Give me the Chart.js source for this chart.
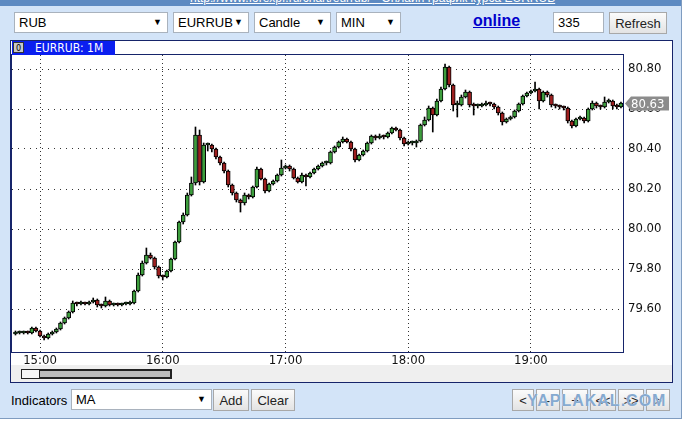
<!DOCTYPE html>
<html>
<head>
<meta charset="utf-8">
<script src="https://cdn.jsdelivr.net/npm/chart.js@4"></script>
<style>
  body{margin:0;background:#fff;font-family:"Liberation Sans",Arial,sans-serif;font-size:13px;}
  .abs{position:absolute;box-sizing:border-box;}
  #widget{left:0;top:0;width:682px;height:419px;background:#d3e4f8;border-right:1px solid #7f9cc0;border-bottom:1px solid #7f9cc0;}
  #topstrip{left:0;top:0;width:681px;height:6px;background:#5d8ac2;overflow:hidden;}
  #topstrip span{position:absolute;left:190px;top:-9px;color:#fff;text-decoration:underline;font-size:12px;white-space:nowrap;}
  .sel{height:21px;background:#fff;border:1px solid #a9b2bd;padding:2px 0 0 4px;white-space:nowrap;}
  .sel .arr{position:absolute;right:5px;top:4px;font-size:9px;}
  .btn{height:22px;background:linear-gradient(#fbfbfb,#e3e3e3);border:1px solid #a8a8a8;text-align:center;padding-top:3px;color:#222;}
  #panel{left:10px;top:40px;width:663px;height:343px;background:#fff;border:1px solid #16246a;}
  #tab{left:12px;top:41px;width:103px;height:14px;background:#0a1ef0;color:#fff;font-family:"Liberation Sans Narrow","DejaVu Sans Condensed",sans-serif;font-size:12px;padding-left:23px;line-height:14px;}
  #tab .ico{position:absolute;left:1px;top:1px;width:11px;height:11px;background:#c8c8c8;border:1px solid #333;color:#000;font-size:9px;line-height:10px;text-align:center;padding:0;}
  #scrollrow{left:11px;top:365px;width:661px;height:17px;background:#efefef;}
  #track{left:21px;top:369px;width:151px;height:10px;background:#f6f6f6;border:1px solid #222;}
  #thumb{left:39px;top:370px;width:132px;height:8px;background:#bdbdbd;border:1px solid #222;}
  #wm{left:527px;top:392px;color:#86aad0;font-weight:bold;font-size:16px;letter-spacing:1px;white-space:nowrap;text-shadow:0 0 1px #fff;}
</style>
</head>
<body>
<div id="widget" class="abs"></div>
<div id="topstrip" class="abs"><span>http://www.forexpf.ru/chart/eurrub/ - Онлайн график курса EURRUB</span></div>

<div class="abs sel" style="left:14px;top:12px;width:154px;">RUB<span class="arr">▼</span></div>
<div class="abs sel" style="left:173px;top:12px;width:76px;">EURRUB<span class="arr">▼</span></div>
<div class="abs sel" style="left:254px;top:12px;width:77px;">Candle<span class="arr">▼</span></div>
<div class="abs sel" style="left:336px;top:12px;width:65px;">MIN<span class="arr">▼</span></div>
<div class="abs" style="left:473px;top:12px;color:#0000cc;font-weight:bold;font-size:16px;text-decoration:underline;">online</div>
<div class="abs sel" style="left:553px;top:12px;width:51px;">335</div>
<div class="abs btn" style="left:609px;top:12px;width:58px;">Refresh</div>

<div id="panel" class="abs"></div>
<div id="scrollrow" class="abs"></div>
<div id="track" class="abs"></div>
<div id="thumb" class="abs"></div>
<canvas id="chart" class="abs" width="662" height="325" style="left:10px;top:40px;"></canvas>
<div id="tab" class="abs"><span class="abs ico">0</span>EURRUB: 1M</div>

<div class="abs" style="left:11px;top:393px;">Indicators</div>
<div class="abs sel" style="left:71px;top:389px;width:141px;">MA<span class="arr">▼</span></div>
<div class="abs btn" style="left:213px;top:389px;width:36px;">Add</div>
<div class="abs btn" style="left:251px;top:389px;width:44px;">Clear</div>
<div class="abs btn" style="left:512px;top:389px;width:22px;">&lt;</div>
<div class="abs btn" style="left:536px;top:389px;width:24px;">-</div>
<div class="abs btn" style="left:562px;top:389px;width:26px;">+</div>
<div class="abs btn" style="left:590px;top:389px;width:26px;">&lt;&lt;</div>
<div class="abs btn" style="left:618px;top:389px;width:26px;">&gt;&gt;</div>
<div class="abs btn" style="left:646px;top:389px;width:24px;">&gt;</div>
<div id="wm" class="abs">YAPLAKAL.COM</div>

<script>
// EURRUB 1-minute chart, shown here as 2-minute candles starting 14:48
const startMinute = 888;
const stepMinutes = 2;

const open = [
  79.475,79.48,79.48,79.485,79.48,79.505,79.49,79.465,79.455,79.475,
  79.485,79.50,79.53,79.555,79.585,79.63,79.625,79.63,79.625,79.635,
  79.645,79.62,79.615,79.64,79.62,79.625,79.62,79.625,79.625,79.63,
  79.69,79.77,79.83,79.87,79.855,79.81,79.765,79.76,79.79,79.85,
  79.935,80.035,80.07,80.17,80.23,80.47,80.235,80.42,80.42,80.40,
  80.36,80.33,80.29,80.22,80.18,80.145,80.13,80.17,80.16,80.21,
  80.30,80.25,80.19,80.225,80.24,80.27,80.305,80.315,80.30,80.255,
  80.235,80.27,80.26,80.28,80.30,80.315,80.33,80.33,80.385,80.41,
  80.435,80.45,80.435,80.40,80.345,80.37,80.39,80.43,80.465,80.455,
  80.465,80.46,80.48,80.505,80.495,80.455,80.425,80.43,80.43,80.44,
  80.52,80.545,80.605,80.57,80.64,80.70,80.81,80.72,80.62,80.62,
  80.66,80.685,80.62,80.615,80.615,80.62,80.63,80.625,80.61,80.58,
  80.535,80.55,80.56,80.59,80.625,80.665,80.68,80.69,80.70,80.64,
  80.685,80.67,80.62,80.615,80.61,80.605,80.54,80.515,80.55,80.555,
  80.54,80.60,80.63,80.615,80.61,80.635,80.64,80.615,80.61
];
const high = [
  79.49,79.49,79.49,79.49,79.51,79.51,79.495,79.47,79.48,79.49,
  79.505,79.535,79.56,79.59,79.64,79.635,79.64,79.635,79.64,79.655,
  79.65,79.625,79.66,79.645,79.63,79.63,79.63,79.635,79.64,79.695,
  79.78,79.84,79.905,79.88,79.86,79.815,79.77,79.795,79.855,79.94,
  80.04,80.08,80.18,80.26,80.51,80.495,80.43,80.43,80.425,80.405,
  80.365,80.335,80.295,80.225,80.185,80.15,80.18,80.175,80.215,80.31,
  80.305,80.255,80.23,80.245,80.275,80.345,80.32,80.32,80.305,80.26,
  80.28,80.275,80.285,80.305,80.32,80.335,80.34,80.39,80.415,80.44,
  80.46,80.455,80.44,80.405,80.375,80.395,80.435,80.47,80.47,80.475,
  80.47,80.485,80.51,80.51,80.50,80.46,80.44,80.44,80.445,80.525,
  80.56,80.615,80.61,80.65,80.71,80.825,80.815,80.725,80.64,80.67,
  80.695,80.69,80.63,80.625,80.63,80.64,80.635,80.63,80.615,80.585,
  80.555,80.565,80.595,80.63,80.67,80.685,80.695,80.735,80.705,80.69,
  80.69,80.675,80.625,80.62,80.615,80.61,80.545,80.555,80.565,80.56,
  80.605,80.64,80.635,80.62,80.66,80.65,80.645,80.625,80.635
];
const low = [
  79.47,79.475,79.475,79.475,79.475,79.485,79.46,79.445,79.45,79.47,
  79.48,79.495,79.525,79.55,79.58,79.615,79.62,79.62,79.62,79.63,
  79.61,79.605,79.61,79.615,79.615,79.615,79.615,79.62,79.62,79.625,
  79.685,79.765,79.825,79.85,79.80,79.755,79.745,79.755,79.785,79.845,
  79.93,80.025,80.065,80.165,80.22,80.22,80.23,80.39,80.385,80.35,
  80.32,80.28,80.21,80.17,80.135,80.085,80.12,80.15,80.155,80.205,
  80.245,80.18,80.185,80.22,80.235,80.265,80.30,80.29,80.25,80.23,
  80.23,80.215,80.255,80.275,80.295,80.31,80.32,80.325,80.38,80.405,
  80.43,80.43,80.39,80.335,80.34,80.365,80.385,80.425,80.445,80.45,
  80.45,80.455,80.475,80.49,80.445,80.415,80.42,80.42,80.41,80.435,
  80.515,80.54,80.485,80.565,80.635,80.695,80.71,80.59,80.56,80.615,
  80.655,80.61,80.57,80.605,80.61,80.615,80.615,80.60,80.57,80.52,
  80.53,80.545,80.555,80.585,80.62,80.66,80.675,80.685,80.60,80.635,
  80.66,80.61,80.605,80.60,80.595,80.53,80.505,80.51,80.545,80.53,
  80.535,80.595,80.605,80.60,80.605,80.63,80.60,80.60,80.605
];
const close = [
  79.48,79.48,79.485,79.48,79.505,79.49,79.465,79.455,79.475,79.485,
  79.50,79.53,79.555,79.585,79.63,79.625,79.63,79.625,79.635,79.645,
  79.62,79.615,79.64,79.62,79.625,79.62,79.625,79.625,79.63,79.69,
  79.77,79.83,79.87,79.855,79.81,79.765,79.76,79.79,79.85,79.935,
  80.035,80.07,80.17,80.23,80.47,80.235,80.42,80.42,80.40,80.36,
  80.33,80.29,80.22,80.18,80.145,80.13,80.17,80.16,80.21,80.30,
  80.25,80.19,80.225,80.24,80.27,80.305,80.315,80.30,80.255,80.235,
  80.27,80.26,80.28,80.30,80.315,80.33,80.33,80.385,80.41,80.435,
  80.45,80.435,80.40,80.345,80.37,80.39,80.43,80.465,80.455,80.465,
  80.46,80.48,80.505,80.495,80.455,80.425,80.43,80.43,80.44,80.52,
  80.545,80.605,80.57,80.64,80.70,80.81,80.72,80.62,80.62,80.66,
  80.685,80.62,80.615,80.615,80.62,80.63,80.625,80.61,80.58,80.535,
  80.55,80.56,80.59,80.625,80.665,80.68,80.69,80.70,80.64,80.685,
  80.67,80.62,80.615,80.61,80.605,80.54,80.515,80.55,80.555,80.54,
  80.60,80.63,80.615,80.61,80.635,80.64,80.615,80.61,80.63
];

const hourTicks = [900, 960, 1020, 1080, 1140];
const hourLabels = ['15:00', '16:00', '17:00', '18:00', '19:00'];
const priceTicks = [79.60, 79.80, 80.00, 80.20, 80.40, 80.60, 80.80];

const upColor = '#3d9e3d';
const downColor = '#9e1f1f';
const tickFont = {family: '"Liberation Sans Narrow", "DejaVu Sans Condensed", sans-serif', size: 13};

const bodies = close.map((c, i) => ({x: startMinute + i * stepMinutes, y: [open[i], c]}));
const wicks = close.map((c, i) => ({x: startMinute + i * stepMinutes, y: [low[i], high[i]]}));
const bodyColors = close.map((c, i) => c >= open[i] ? upColor : downColor);

// plot frame + last price flag
const framePlugin = {
  id: 'frame',
  afterDraw(chart){
    const {ctx, chartArea: a} = chart;
    ctx.save();
    ctx.strokeStyle = '#16246a';
    ctx.lineWidth = 1;
    ctx.strokeRect(a.left - 0.5, a.top - 0.5, a.right - a.left + 1, a.bottom - a.top + 1);
    const last = close[close.length - 1];
    const y = Math.round(chart.scales.y.getPixelForValue(last)) + 0.5;
    const x = a.right + 2;
    ctx.fillStyle = '#8c8c8c';
    ctx.beginPath();
    ctx.moveTo(x, y);
    ctx.lineTo(x + 6, y - 7);
    ctx.lineTo(x + 44, y - 7);
    ctx.lineTo(x + 44, y + 7);
    ctx.lineTo(x + 6, y + 7);
    ctx.closePath();
    ctx.fill();
    ctx.fillStyle = '#fff';
    ctx.font = '13px "Liberation Sans Narrow", "DejaVu Sans Condensed", sans-serif';
    ctx.textBaseline = 'middle';
    ctx.fillText(last.toFixed(2), x + 6, y + 1);
    ctx.restore();
  }
};

new Chart(document.getElementById('chart'), {
  type: 'bar',
  data: {
    datasets: [
      {data: bodies, backgroundColor: bodyColors, borderColor: '#000', borderWidth: 1, borderSkipped: false, barThickness: 4, minBarLength: 2, grouped: false},
      {data: wicks, backgroundColor: '#000', borderWidth: 0, barThickness: 1, grouped: false}
    ]
  },
  options: {
    responsive: false,
    animation: false,
    layout: {padding: {left: 2, top: 15, right: 0, bottom: 0}},
    plugins: {legend: {display: false}, tooltip: {enabled: false}},
    scales: {
      x: {
        type: 'linear', offset: false, min: 886.3, max: 1185,
        afterBuildTicks: s => { s.ticks = hourTicks.map(v => ({value: v})); },
        afterFit: s => { s.height = 13; },
        ticks: {callback: (v, i) => hourLabels[i], font: tickFont, color: '#111', padding: 1, maxRotation: 0, autoSkip: false},
        grid: {color: '#333', drawTicks: false, offset: false},
        border: {display: false, dash: [1, 3]}
      },
      y: {
        position: 'right', min: 79.385, max: 80.87,
        afterBuildTicks: s => { s.ticks = priceTicks.map(v => ({value: v})); },
        afterFit: s => { s.width = 49; },
        ticks: {callback: v => v.toFixed(2), font: tickFont, color: '#111', padding: 5},
        grid: {color: '#333', drawTicks: false},
        border: {display: false, dash: [1, 5]}
      }
    }
  },
  plugins: [framePlugin]
});
</script>
</body>
</html>
